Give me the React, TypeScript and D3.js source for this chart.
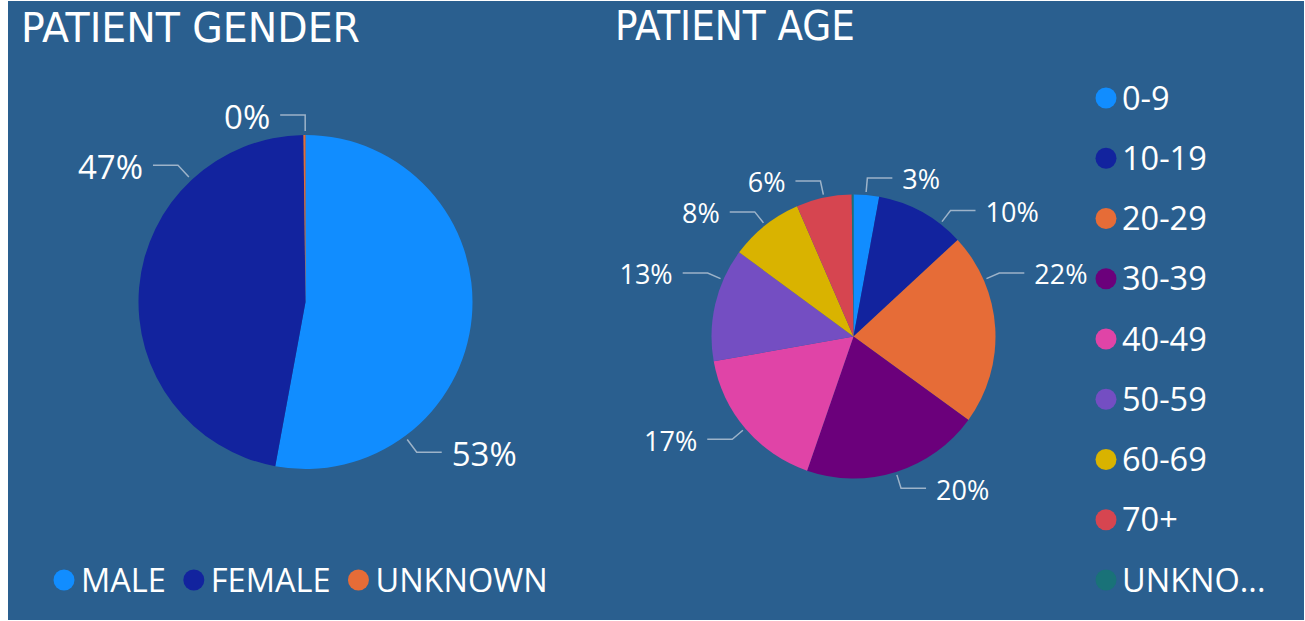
import * as React from "react"
import * as d3 from "d3"

// gender pie
const genderCategories = ["MALE", "FEMALE", "UNKNOWN"]
const genderValues = [52.9, 46.9, 0.2]
const genderLabels = ["53%", "47%", "0%"]

// age pie
const ageCategories = ["0-9", "10-19", "20-29", "30-39", "40-49", "50-59", "60-69", "70+", "UNKNOWN"]
const ageValues = [2.9, 10.2, 21.9, 20.3, 16.9, 12.9, 8.4, 6.3, 0.2]
const ageLabels = ["3%", "10%", "22%", "20%", "17%", "13%", "8%", "6%", ""]

const palette = ["#118DFF", "#12239E", "#E66C37", "#6B007B", "#E044A7", "#744EC2", "#D9B300", "#D64550", "#197278"]

// label anchor angles (deg, clockwise from top) - labels get pushed apart like Power BI does
const genderLabelAngles = [143.5, 317, 359.9]
const ageLabelAngles = [5, 37.6, 66.5, 162.6, 229.7, 293.5, 321.6, 348, 0]

const W = 1305
const H = 621
const BG = "#2A5F8F"
const LEADER = "#9DB3C9"
const labelFont = "'Open Sans', 'Noto Sans', sans-serif"
const titleFont = "'DejaVu Sans Condensed', 'DejaVu Sans', sans-serif"

interface PieProps {
    cx: number
    cy: number
    r: number
    values: number[]
    labels: string[]
    labelAngles: number[]
    fontSize: number
    inner: number
    outer: number
}

function Pie(props: PieProps): JSX.Element {
    const { cx, cy, r, values, labels, labelAngles, fontSize, inner, outer } = props
    const pie = d3.pie<number>().sort(null).value(d => d)
    const arc = d3.arc<d3.PieArcDatum<number>>().innerRadius(0).outerRadius(r)
    const arcs = pie(values)

    const pt = (deg: number, rad: number): [number, number] => {
        const a = (deg * Math.PI) / 180
        return [Math.sin(a) * rad, -Math.cos(a) * rad]
    }

    return (
        <g transform={"translate(" + cx + "," + cy + ")"}>
            {arcs.map((a, i) => (
                <path key={i} d={arc(a) || ""} fill={palette[i]} />
            ))}
            {arcs.map((a, i) => {
                if (!labels[i]) return null
                const deg = labelAngles[i]
                const p0 = pt(deg, r + inner)
                const p1 = pt(deg, r + outer)
                const right = deg < 180
                const x2 = p1[0] + (right ? 25 : -25)
                const line = d3.line()([p0, p1, [x2, p1[1]]]) || ""
                return (
                    <g key={"l" + i}>
                        <path d={line} fill="none" stroke={LEADER} strokeWidth={1.5} />
                        <text
                            x={x2 + (right ? 10 : -10)}
                            y={p1[1]}
                            dy="0.42em"
                            textAnchor={right ? "start" : "end"}
                            fill="#fff"
                            fontSize={fontSize}
                            fontFamily={labelFont}
                        >
                            {labels[i]}
                        </text>
                    </g>
                )
            })}
        </g>
    )
}

export default function App(): JSX.Element {
    // horizontal legend for gender, items laid out from measured text widths
    const legendRef = React.useRef<SVGGElement | null>(null)

    React.useEffect(() => {
        const g = d3.select(legendRef.current)
        g.selectAll("*").remove()
        let x = 64
        genderCategories.forEach((c, i) => {
            g.append("circle").attr("cx", x).attr("cy", 580).attr("r", 10.5).attr("fill", palette[i])
            const t = g.append("text")
                .attr("x", x + 17)
                .attr("y", 580)
                .attr("dy", "0.36em")
                .attr("fill", "#fff")
                .attr("font-size", 32.5)
                .attr("font-family", labelFont)
                .text(c)
            const w = (t.node() as SVGTextElement).getComputedTextLength()
            x = x + 17 + w + 28
        })
    }, [])

    const ageLegendY = d3.scalePoint<string>().domain(ageCategories).range([98, 580])

    return (
        <div>
            <style>{"body{margin:0}"}</style>
            <svg width={W} height={H} style={{ display: "block", background: "#fff" }}>
                <rect x={8} y={1} width={1296} height={619} fill={BG} />
                <text x={21} y={42} fill="#fff" fontSize={41} fontFamily={titleFont}
                    textLength={339} lengthAdjust="spacingAndGlyphs">PATIENT GENDER</text>
                <text x={615} y={40} fill="#fff" fontSize={41} fontFamily={titleFont}
                    textLength={240} lengthAdjust="spacingAndGlyphs">PATIENT AGE</text>

                <Pie cx={305.5} cy={302} r={167} values={genderValues} labels={genderLabels}
                    labelAngles={genderLabelAngles} fontSize={33} inner={4} outer={20} />
                <Pie cx={853.5} cy={336.5} r={142} values={ageValues} labels={ageLabels}
                    labelAngles={ageLabelAngles} fontSize={27} inner={3} outer={17} />

                <g ref={legendRef} />

                {ageCategories.map((c, i) => (
                    <g key={c} transform={"translate(1106," + ageLegendY(c) + ")"}>
                        <circle r={10.5} fill={palette[i]} />
                        <text x={16} dy="0.36em" fill="#fff" fontSize={32.5} fontFamily={labelFont}>
                            {c === "UNKNOWN" ? "UNKNO..." : c}
                        </text>
                    </g>
                ))}
            </svg>
        </div>
    )
}
